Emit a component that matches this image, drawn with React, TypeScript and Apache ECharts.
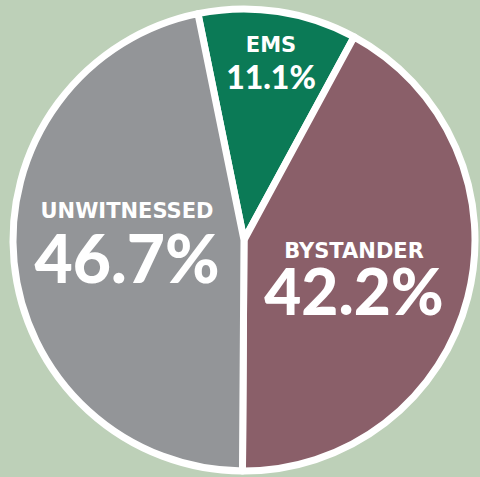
import React, { useEffect, useRef } from "react";
import * as echarts from "echarts";

const categories = ["EMS", "BYSTANDER", "UNWITNESSED"];
const values = [11.1, 42.2, 46.7];
const colors = ["#0b7a56", "#8a5f69", "#939598"];

const labelStyles = [
  { nameSize: 21, valSize: 32, x: 271, y: 64, l1: 24, l2: 38 },
  { nameSize: 21, valSize: 64, x: 354, y: 278.5, l1: 24, l2: 55 },
  { nameSize: 21, valSize: 66, x: 127, y: 244.5, l1: 26, l2: 67 },
];

export default function App() {
  const ref = useRef<HTMLDivElement>(null);
  useEffect(() => {
    document.body.style.margin = "0";
    const chart = echarts.init(ref.current!, undefined, { renderer: "svg" });
    chart.setOption({
      animation: false,
      backgroundColor: "#bdd0b8",
      series: [
        {
          type: "pie",
          center: [244, 240],
          radius: [0, 231],
          startAngle: 101.5,
          clockwise: true,
          avoidLabelOverlap: false,
          itemStyle: { borderColor: "#ffffff", borderWidth: 7 },
          emphasis: { disabled: true },
          labelLine: { show: false },
          data: categories.map((c, i) => ({
            name: c,
            value: values[i],
            itemStyle: { color: colors[i] },
            label: {
              show: true,
              position: "inside",
              formatter: `{n|${c}}\n{v|${values[i].toFixed(1)}%}`,
              rich: {
                n: {
                  fontFamily: "DejaVu Sans",
                  fontWeight: "bold",
                  fontSize: labelStyles[i].nameSize,
                  color: "#ffffff",
                  lineHeight: labelStyles[i].l1,
                  align: "center",
                },
                v: {
                  fontFamily: "Lato",
                  fontWeight: 900,
                  fontSize: labelStyles[i].valSize,
                  color: "#ffffff",
                  lineHeight: labelStyles[i].l2,
                  align: "center",
                },
              },
            },
          })),
          labelLayout: (p: any) => ({
            x: labelStyles[p.dataIndex].x,
            y: labelStyles[p.dataIndex].y,
            align: "center",
            verticalAlign: "middle",
          }),
        },
      ],
    });
    return () => chart.dispose();
  }, []);
  return <div ref={ref} style={{ width: 480, height: 477 }} />;
}
